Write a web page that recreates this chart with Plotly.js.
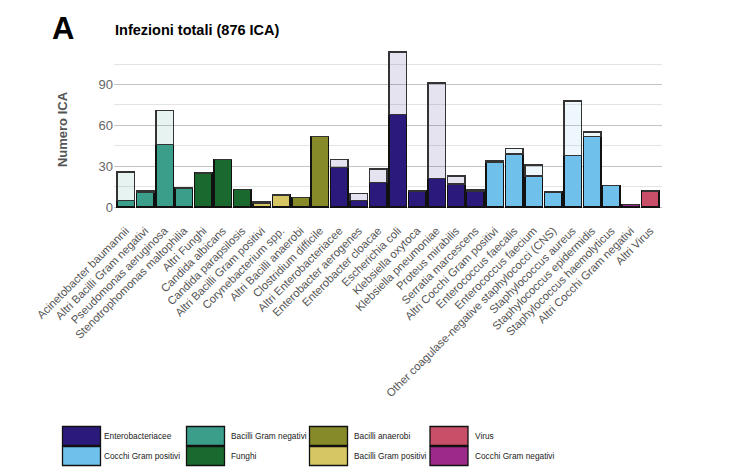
<!DOCTYPE html>
<html>
<head>
<meta charset="utf-8">
<script src="https://cdn.plot.ly/plotly-3.0.1.min.js"></script>
<style>
  html, body { margin: 0; padding: 0; background: #ffffff; }
  #chart { width: 751px; height: 474px; }
</style>
</head>
<body>
<div id="chart"></div>
<script>
// ---- Data ----
var categorie = [
  "Acinetobacter baumannii", "Altri Bacilli Gram negativi", "Pseudomonas aeruginosa",
  "Stenotrophomonas maltophilia", "Altri Funghi", "Candida albicans", "Candida parapsilosis",
  "Altri Bacilli Gram positivi", "Corynebacterium spp.", "Altri Bacilli anaerobi",
  "Clostridium difficile", "Altri Enterobacteriacee", "Enterobacter aerogenes",
  "Enterobacter cloacae", "Escherichia coli", "Klebsiella oxytoca", "Klebsiella pneumoniae",
  "Proteus mirabilis", "Serratia marcescens", "Altri Cocchi Gram positivi",
  "Enterococcus faecalis", "Enterococcus faecium",
  "Other coagulase-negative staphylococci (CNS)", "Staphylococcus aureus",
  "Staphylococcus epidermidis", "Staphylococcus haemolyticus",
  "Altri Cocchi Gram negativi", "Altri Virus"
];
var gruppi = [
  "Bacilli Gram negativi", "Bacilli Gram negativi", "Bacilli Gram negativi",
  "Bacilli Gram negativi", "Funghi", "Funghi", "Funghi",
  "Bacilli Gram positivi", "Bacilli Gram positivi", "Bacilli anaerobi",
  "Bacilli anaerobi", "Enterobacteriacee", "Enterobacteriacee",
  "Enterobacteriacee", "Enterobacteriacee", "Enterobacteriacee", "Enterobacteriacee",
  "Enterobacteriacee", "Enterobacteriacee", "Cocchi Gram positivi",
  "Cocchi Gram positivi", "Cocchi Gram positivi",
  "Cocchi Gram positivi", "Cocchi Gram positivi",
  "Cocchi Gram positivi", "Cocchi Gram positivi",
  "Cocchi Gram negativi", "Virus"
];
// solid (dark) portion of each bar
var valoriPieni = [5, 11, 46, 14, 25, 35, 13, 3, 9, 7, 52, 29, 5, 18, 68, 12, 21, 17, 12, 33, 39, 23, 11, 38, 52, 16, 2, 12];
// total height of each bar
var valoriTotali = [26, 12, 71, 14, 25, 35, 13, 4, 9, 7, 52, 35, 10, 28, 114, 12, 91, 23, 13, 34, 43, 31, 11, 78, 55, 16, 2, 12];

var legendaGruppi = [
  "Enterobacteriacee", "Cocchi Gram positivi",
  "Bacilli Gram negativi", "Funghi",
  "Bacilli anaerobi", "Bacilli Gram positivi",
  "Virus", "Cocchi Gram negativi"
];
var yTicks = [0, 30, 60, 90];

// ---- Styles ----
var coloriGruppi = {
  "Enterobacteriacee": [43, 26, 123],
  "Cocchi Gram positivi": [111, 192, 234],
  "Bacilli Gram negativi": [58, 158, 138],
  "Funghi": [26, 106, 48],
  "Bacilli anaerobi": [135, 138, 40],
  "Bacilli Gram positivi": [214, 199, 100],
  "Virus": [200, 79, 104],
  "Cocchi Gram negativi": [155, 42, 138]
};
function rgb(c) { return "rgb(" + c.join(",") + ")"; }
function rgba(c, a) { return "rgba(" + c.join(",") + "," + a + ")"; }

var valoriChiari = valoriTotali.map(function (t, i) { return t - valoriPieni[i]; });

var tracePieni = {
  type: "bar",
  x: categorie,
  y: valoriPieni,
  marker: {
    color: gruppi.map(function (g) { return rgb(coloriGruppi[g]); }),
    line: { color: "#111111", width: 1.5 }
  },
  showlegend: false,
  hoverinfo: "x+y"
};
var traceChiari = {
  type: "bar",
  x: categorie,
  y: valoriChiari,
  marker: {
    color: gruppi.map(function (g) { return rgba(coloriGruppi[g], 0.12); }),
    line: { color: "#333333", width: 1.5 }
  },
  showlegend: false,
  hoverinfo: "x+y"
};

// layout geometry (pixels)
var W = 751, H = 474;
var L = 114, R = 662, T = 44, B = 215;
function xp(px) { return (px - L) / (R - L); }
function yp(py) { return (B - py) / (B - T); }

var shapes = [];
var annotations = [];

// Panel letter and title
annotations.push({
  xref: "paper", yref: "paper", x: xp(50), y: yp(29), xanchor: "left", yanchor: "middle",
  text: "<b>A</b>", showarrow: false,
  font: { family: "Liberation Sans, Arial, sans-serif", size: 31, color: "#000000" }
});
annotations.push({
  xref: "paper", yref: "paper", x: xp(113), y: yp(30), xanchor: "left", yanchor: "middle",
  text: "<b>Infezioni totali (876 ICA)</b>", showarrow: false,
  font: { family: "Liberation Sans, Arial, sans-serif", size: 14.5, color: "#000000" }
});

// Custom legend: 4 columns x 2 rows
var colSwatchX = [62.5, 186.5, 309.5, 430];
var colTextX = [102, 228.5, 352, 472.5];
var rowTop = [426.5, 446.5];
var swW = 38, swH = 19;
legendaGruppi.forEach(function (g, i) {
  var col = Math.floor(i / 2), row = i % 2;
  var x0 = colSwatchX[col], y0 = rowTop[row];
  shapes.push({
    type: "rect", xref: "paper", yref: "paper",
    x0: xp(x0), x1: xp(x0 + swW), y0: yp(y0), y1: yp(y0 + swH),
    fillcolor: rgb(coloriGruppi[g]), line: { color: "#111111", width: 1.3 }
  });
  annotations.push({
    xref: "paper", yref: "paper", x: xp(colTextX[col]), y: yp(y0 + swH / 2),
    xanchor: "left", yanchor: "middle", text: g, showarrow: false,
    font: { family: "Liberation Sans, Arial, sans-serif", size: 8.3, color: "#222222" }
  });
});

var layout = {
  width: W, height: H,
  margin: { l: L, r: W - R, t: T, b: H - B, pad: 0 },
  paper_bgcolor: "#ffffff", plot_bgcolor: "#ffffff",
  barmode: "stack",
  bargap: 0.1,
  showlegend: false,
  xaxis: {
    type: "category",
    range: [-0.6, categorie.length - 0.4],
    tickangle: -45,
    ticklabelstandoff: 6,
    tickfont: { family: "Liberation Sans, Arial, sans-serif", size: 11.3, color: "#555555" },
    showgrid: false, zeroline: false, showline: false,
    ticks: "", ticklen: 0,
    fixedrange: true
  },
  yaxis: {
    range: [-5.7, 119.7],
    tickvals: yTicks,
    ticktext: yTicks.map(String),
    tickfont: { family: "Liberation Sans, Arial, sans-serif", size: 13, color: "#666666" },
    showgrid: true, gridcolor: "#c4c4c4", gridwidth: 1,
    minor: { tickvals: [15, 45, 75, 105], showgrid: true, gridcolor: "#e4e4e4", gridwidth: 1, ticks: "" },
    zeroline: false, showline: false, ticks: "", ticklen: 0,
    title: {
      text: "<b>Numero ICA</b>", standoff: 27,
      font: { family: "Liberation Sans, Arial, sans-serif", size: 13, color: "#555555" }
    },
    fixedrange: true
  },
  shapes: shapes,
  annotations: annotations
};

Plotly.newPlot("chart", [tracePieni, traceChiari], layout, { displayModeBar: false, staticPlot: true });
</script>
</body>
</html>
